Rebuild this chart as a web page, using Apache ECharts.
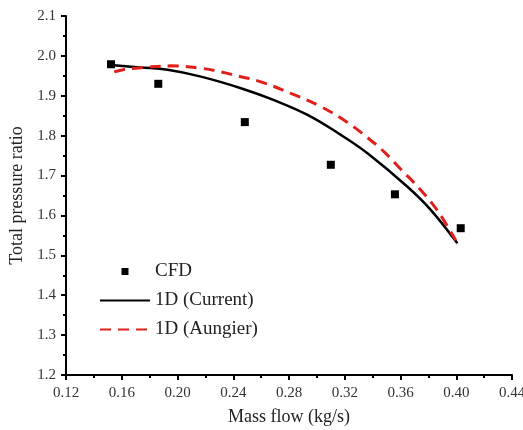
<!DOCTYPE html>
<html>
<head>
<meta charset="utf-8">
<script src="https://cdn.jsdelivr.net/npm/echarts@6/dist/echarts.min.js"></script>
<style>
  html, body { margin: 0; padding: 0; background: #fff; }
  #chart { width: 523px; height: 430px; }
</style>
</head>
<body>
<div id="chart"></div>
<script>
// CFD points (mass flow, pressure ratio)
var cfdFlow  = [0.1523, 0.1862, 0.2483, 0.3100, 0.3560, 0.4032];
var cfdRatio = [1.979, 1.930, 1.834, 1.727, 1.653, 1.568];

// 1D (Current) curve
var curFlow  = [0.1523, 0.1738, 0.1929, 0.2168, 0.2455, 0.2693, 0.2933, 0.3172, 0.3363, 0.3650, 0.3817, 0.4008];
var curRatio = [1.977, 1.971, 1.965, 1.948, 1.919, 1.889, 1.852, 1.802, 1.756, 1.672, 1.614, 1.530];

// 1D (Aungier) curve
var aunFlow  = [0.1546, 0.1618, 0.1761, 0.1952, 0.2168, 0.2311, 0.2431, 0.2598, 0.2813, 0.3028, 0.3220, 0.3363, 0.3490, 0.3602, 0.3745, 0.3865, 0.3996];
var aunRatio = [1.960, 1.966, 1.971, 1.975, 1.969, 1.960, 1.950, 1.935, 1.906, 1.873, 1.833, 1.795, 1.757, 1.716, 1.664, 1.612, 1.538];

var seriesNames = ['CFD', '1D (Current)', '1D (Aungier)'];

function pairs(xs, ys){
    var out = [];
    for (var i = 0; i < xs.length; i++) out.push([xs[i], ys[i]]);
    return out;
}

var serif = 'Liberation Serif';
var axisCommon = {
    axisLine: { show: true, onZero: false, lineStyle: { color: '#000', width: 2 } },
    axisTick: { show: true, inside: false, length: 5, lineStyle: { color: '#000', width: 2 } },
    minorTick: { show: true, splitNumber: 2, length: 3, lineStyle: { color: '#000', width: 2 } },
    splitLine: { show: false },
    nameLocation: 'middle',
    nameTextStyle: { fontFamily: serif, fontSize: 18, color: '#222' }
};

var option = {
    animation: false,
    backgroundColor: '#fff',
    grid: { left: 66, right: 11, top: 16, bottom: 55, containLabel: false, outerBoundsMode: 'none' },
    legend: {
        orient: 'vertical',
        left: 94,
        top: 257,
        itemWidth: 50,
        itemHeight: 7,
        itemGap: 10,
        data: [
            { name: seriesNames[0], icon: 'path://M0,0L10,0L10,10L0,10Z', itemStyle: { color: '#000' } },
            { name: seriesNames[1], itemStyle: { color: 'rgba(0,0,0,0)', borderWidth: 0 } },
            { name: seriesNames[2], itemStyle: { color: 'rgba(0,0,0,0)', borderWidth: 0 } }
        ],
        textStyle: { fontFamily: serif, fontSize: 19, color: '#222' }
    },
    xAxis: Object.assign({}, axisCommon, {
        type: 'value',
        min: 0.12, max: 0.44, interval: 0.04,
        name: 'Mass flow (kg/s)',
        nameGap: 33,
        axisLabel: { fontFamily: serif, fontSize: 15, color: '#333', margin: 11,
            formatter: function(v){ return v.toFixed(2); } }
    }),
    yAxis: Object.assign({}, axisCommon, {
        type: 'value',
        min: 1.2, max: 2.1, interval: 0.1,
        name: 'Total pressure ratio',
        nameGap: 40,
        axisLabel: { fontFamily: serif, fontSize: 15, color: '#333', margin: 10,
            formatter: function(v){ return v.toFixed(1); } }
    }),
    series: [
        {
            name: seriesNames[0],
            type: 'scatter',
            symbol: 'rect',
            symbolSize: 8,
            itemStyle: { color: '#000', opacity: 1 },
            data: pairs(cfdFlow, cfdRatio),
            z: 5
        },
        {
            name: seriesNames[1],
            type: 'line',
            smooth: 0.4,
            symbol: 'none',
            lineStyle: { color: '#000', width: 2.5 },
            itemStyle: { color: '#000' },
            data: pairs(curFlow, curRatio)
        },
        {
            name: seriesNames[2],
            type: 'line',
            smooth: 0.4,
            symbol: 'none',
            lineStyle: { color: '#e0201c', width: 3, type: [11, 7] },
            itemStyle: { color: '#e0201c' },
            data: pairs(aunFlow, aunRatio)
        }
    ]
};

var chart = echarts.init(document.getElementById('chart'));
chart.setOption(option);
</script>
</body>
</html>
